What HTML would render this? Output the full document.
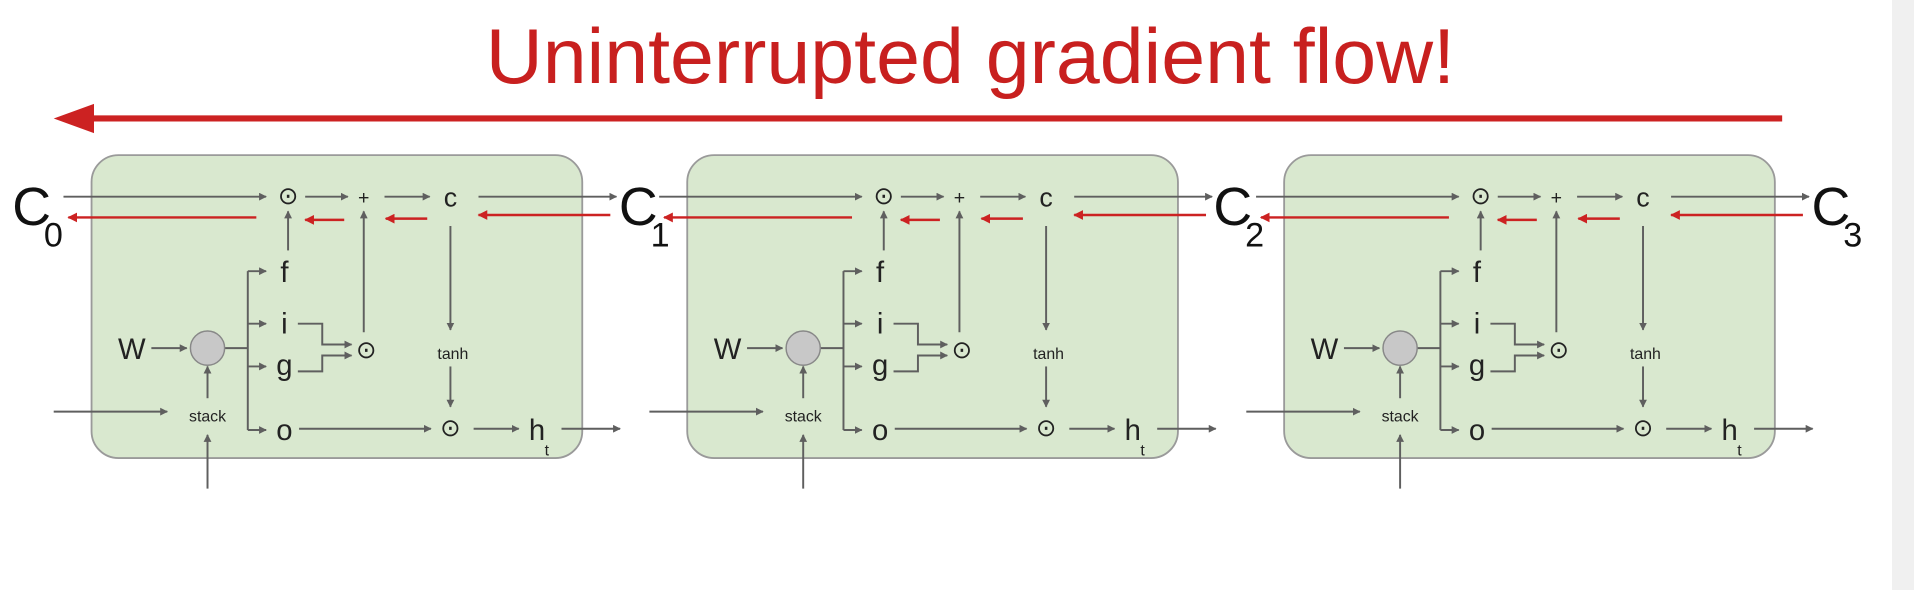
<!DOCTYPE html>
<html><head><meta charset="utf-8"><style>
html,body{margin:0;padding:0;background:#fff;width:1914px;height:590px;overflow:hidden}
svg{display:block}
text{font-family:"Liberation Sans",sans-serif}
</style></head><body>
<svg width="1914" height="590" viewBox="0 0 1568 483" preserveAspectRatio="none" xmlns="http://www.w3.org/2000/svg">
<defs>
<marker id="ag" viewBox="0 0 10 10" refX="9" refY="5" markerWidth="4" markerHeight="4" orient="auto"><path d="M0,0 L10,5 L0,10 z" fill="#5f5f5f"/></marker>
<marker id="ar" viewBox="0 0 10 10" refX="9" refY="5" markerWidth="4" markerHeight="4" orient="auto"><path d="M0,0 L10,5 L0,10 z" fill="#cc2222"/></marker>
<g id="cell">
<rect x="75" y="127" width="402" height="248" rx="22" fill="#d9e8cf" stroke="#9a9a9a" stroke-width="1.5"/>
<g stroke="#5f5f5f" stroke-width="1.6" fill="none">
<line x1="52" y1="161" x2="218" y2="161" marker-end="url(#ag)"/>
<line x1="250" y1="161" x2="285" y2="161" marker-end="url(#ag)"/>
<line x1="315" y1="161" x2="352" y2="161" marker-end="url(#ag)"/>
<line x1="392" y1="161" x2="505" y2="161" marker-end="url(#ag)"/>
<line x1="236" y1="205" x2="236" y2="173" marker-end="url(#ag)"/>
<line x1="298" y1="272" x2="298" y2="173" marker-end="url(#ag)"/>
<line x1="369" y1="185" x2="369" y2="270" marker-end="url(#ag)"/>
<line x1="369" y1="300" x2="369" y2="333" marker-end="url(#ag)"/>
<line x1="124" y1="285" x2="153" y2="285" marker-end="url(#ag)"/>
<polyline points="184,285 203,285"/>
<line x1="203" y1="222" x2="203" y2="352"/>
<line x1="203" y1="222" x2="218" y2="222" marker-end="url(#ag)"/>
<line x1="203" y1="265" x2="218" y2="265" marker-end="url(#ag)"/>
<line x1="203" y1="300" x2="218" y2="300" marker-end="url(#ag)"/>
<line x1="203" y1="352" x2="218" y2="352" marker-end="url(#ag)"/>
<polyline points="244,265 264,265 264,282 288,282" marker-end="url(#ag)"/>
<polyline points="244,304 264,304 264,291 288,291" marker-end="url(#ag)"/>
<line x1="245" y1="351" x2="353" y2="351" marker-end="url(#ag)"/>
<line x1="388" y1="351" x2="425" y2="351" marker-end="url(#ag)"/>
<line x1="460" y1="351" x2="508" y2="351" marker-end="url(#ag)"/>
<line x1="44" y1="337" x2="137" y2="337" marker-end="url(#ag)"/>
<line x1="170" y1="400" x2="170" y2="356" marker-end="url(#ag)"/>
<line x1="170" y1="326" x2="170" y2="300" marker-end="url(#ag)"/>
</g>
<g stroke="#cc2222" stroke-width="2" fill="none">
<line x1="210" y1="178" x2="56" y2="178" marker-end="url(#ar)"/>
<line x1="282" y1="180" x2="250" y2="180" marker-end="url(#ar)"/>
<line x1="350" y1="179" x2="316" y2="179" marker-end="url(#ar)"/>
<line x1="500" y1="176" x2="392" y2="176" marker-end="url(#ar)"/>
</g>
<circle cx="170" cy="285" r="14" fill="#c8c8c8" stroke="#888" stroke-width="1.2"/>
<g fill="#222">
<text x="236" y="167" font-size="20" text-anchor="middle">⊙</text>
<text x="298" y="167" font-size="16" text-anchor="middle">+</text>
<text x="369" y="169" font-size="22" text-anchor="middle">c</text>
<text x="300" y="293" font-size="20" text-anchor="middle">⊙</text>
<text x="369" y="357" font-size="20" text-anchor="middle">⊙</text>
<text x="371" y="294" font-size="13" text-anchor="middle">tanh</text>
<text x="170" y="345" font-size="13" text-anchor="middle">stack</text>
<text x="108" y="294" font-size="24" text-anchor="middle">W</text>
<text x="233" y="231" font-size="24" text-anchor="middle">f</text>
<text x="233" y="273" font-size="24" text-anchor="middle">i</text>
<text x="233" y="307" font-size="24" text-anchor="middle">g</text>
<text x="233" y="360" font-size="24" text-anchor="middle">o</text>
<text x="440" y="360" font-size="24" text-anchor="middle">h</text>
<text x="448" y="373" font-size="13" text-anchor="middle">t</text>
</g>
</g>
</defs>
<rect x="1550" y="0" width="18" height="483" fill="#f0f0f0"/>
<text x="795" y="68" font-size="64" fill="#c8201f" text-anchor="middle" textLength="794" lengthAdjust="spacingAndGlyphs">Uninterrupted gradient flow!</text>
<line x1="1460" y1="97" x2="72" y2="97" stroke="#cc2222" stroke-width="5"/>
<path d="M44,97 L77,85 L77,109 z" fill="#cc2222"/>
<use href="#cell"/>
<use href="#cell" transform="translate(488,0)"/>
<use href="#cell" transform="translate(977,0)"/>
<g fill="#111">
<text x="10" y="184" font-size="44">C</text><text x="36" y="202" font-size="28">0</text>
<text x="507" y="184" font-size="44">C</text><text x="533" y="202" font-size="28">1</text>
<text x="994" y="184" font-size="44">C</text><text x="1020" y="202" font-size="28">2</text>
<text x="1484" y="184" font-size="44">C</text><text x="1510" y="202" font-size="28">3</text>
</g>
</svg>
</body></html>
